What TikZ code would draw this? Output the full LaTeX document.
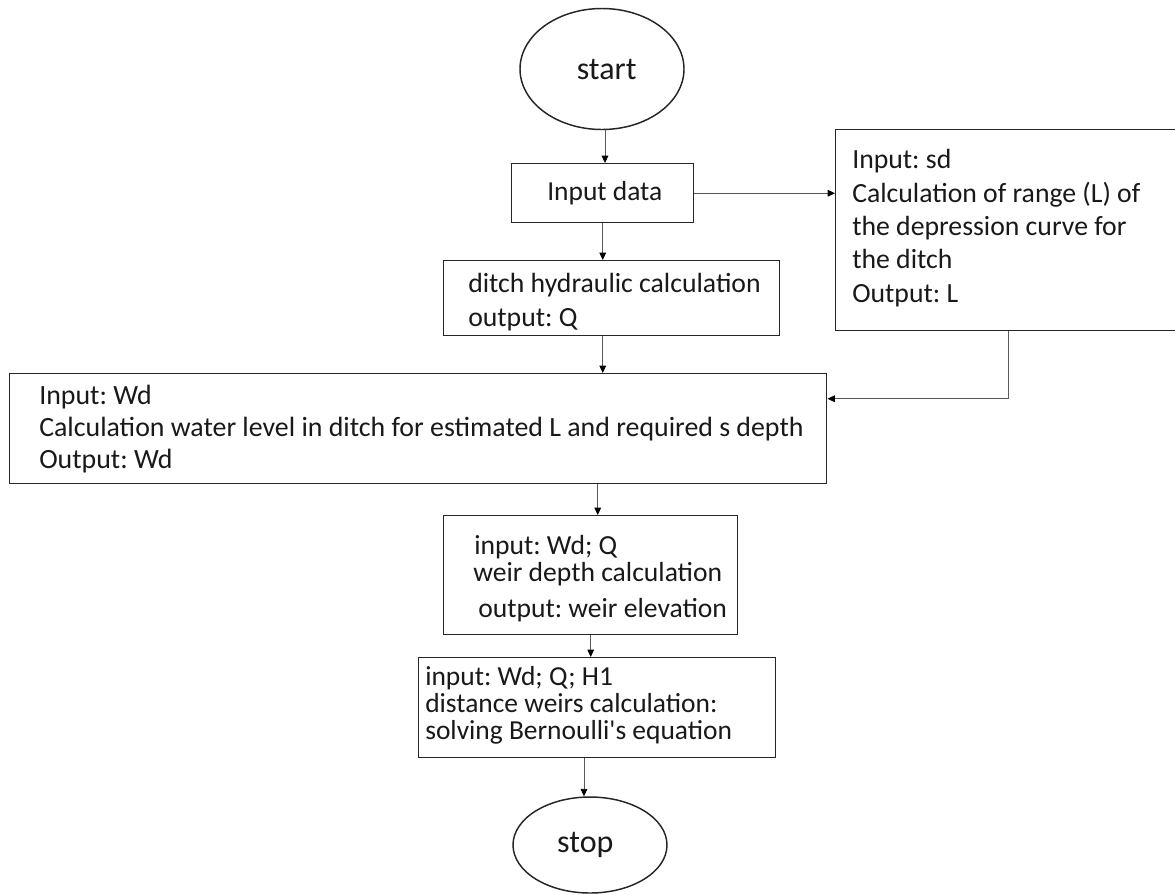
\documentclass[tikz,border=0pt]{standalone}
\usepackage{fontspec}
\setmainfont{Carlito}
\usetikzlibrary{arrows.meta,shapes.geometric}
\newcommand{\pxu}{0.75pt}
\frenchspacing
\begin{document}
\begin{tikzpicture}[x=0.75pt,y=-0.75pt,
  box/.style={draw=black!85, line width=1.1pt, anchor=north west, inner sep=0pt},
  oval/.style={ellipse, draw=black!85, line width=1.1pt, inner sep=0pt, text=black!90,
    font=\fontsize{24pt}{28pt}\selectfont},
  txt/.style={anchor=base west, inner sep=0pt, align=left, text=black!90},
  arr/.style={draw=black!65, line width=0.6pt, -{Triangle[length=5.5pt,width=5pt,color=black]}}
]
\path[use as bounding box, fill=white] (0,0) rectangle (1175,894);

% shapes
\node[oval, minimum width=164*\pxu, minimum height=121*\pxu] (start) at (602,69) {\hspace*{7pt}start};
\node[box, minimum width=182*\pxu, minimum height=59*\pxu, text=black!90,
  font=\fontsize{20.6pt}{24pt}\selectfont] (input) at (511,163) {\hspace*{3pt}Input data};
\node[box, minimum width=352*\pxu, minimum height=201*\pxu] (rbox) at (835,129) {};
\node[box, minimum width=336*\pxu, minimum height=75*\pxu] (ditch) at (443,260) {};
\node[box, minimum width=817*\pxu, minimum height=110*\pxu] (wd) at (9,373) {};
\node[box, minimum width=294*\pxu, minimum height=119*\pxu] (weir) at (443,515) {};
\node[box, minimum width=357*\pxu, minimum height=100*\pxu] (bern) at (418,657) {};
\node[oval, minimum width=154*\pxu, minimum height=96*\pxu] (stop) at (590,845) {stop\hspace*{7pt}};

% texts (anchored at the baseline of their last line)
\node[txt, font=\fontsize{20.8pt}{25pt}\selectfont] (rtxt) at (852,302)
  {Input: sd\\Calculation of range (L) of\\the depression curve for\\the ditch\\Output: L};
\node[txt, font=\fontsize{20.8pt}{25.5pt}\selectfont] (dtxt) at (468,326)
  {ditch hydraulic calculation\\output: Q};
\node[txt, font=\fontsize{20.9pt}{24pt}\selectfont] (wtxt) at (39,468)
  {Input: Wd\\Calculation water level in ditch for estimated L and required s depth\\Output: Wd};
\node[txt, font=\fontsize{20.7pt}{20.25pt}\selectfont] (etxt) at (473,617)
  {\hspace*{0.75pt}input: Wd; Q\\weir depth calculation\\[6.75pt]\hspace*{3.75pt}output: weir elevation};
\node[txt, font=\fontsize{20.6pt}{19.9pt}\selectfont] (btxt) at (425,739)
  {input: Wd; Q; H1\\distance weirs calculation:\\solving Bernoulli\textquotesingle s equation};

% connectors
\draw[arr] ([xshift=3*\pxu]start.south) -- ([xshift=3*\pxu]start.south |- input.north);
\draw[arr] (input.east) -- (input.east -| rbox.west);
\draw[arr] (input.south) -- (input.south |- ditch.north);
\draw[arr] (input.south |- ditch.south) -- (input.south |- wd.north);
\draw[arr] ([xshift=-3*\pxu]rbox.south) |- ([yshift=30*\pxu]wd.east);
\draw[arr] ([xshift=7*\pxu]weir.north |- wd.south) -- ([xshift=7*\pxu]weir.north);
\draw[arr] (weir.south) -- (weir.south |- bern.north);
\draw[arr] ([xshift=-6*\pxu]stop.north |- bern.south) -- ([xshift=-6*\pxu]stop.north);
\end{tikzpicture}
\end{document}
